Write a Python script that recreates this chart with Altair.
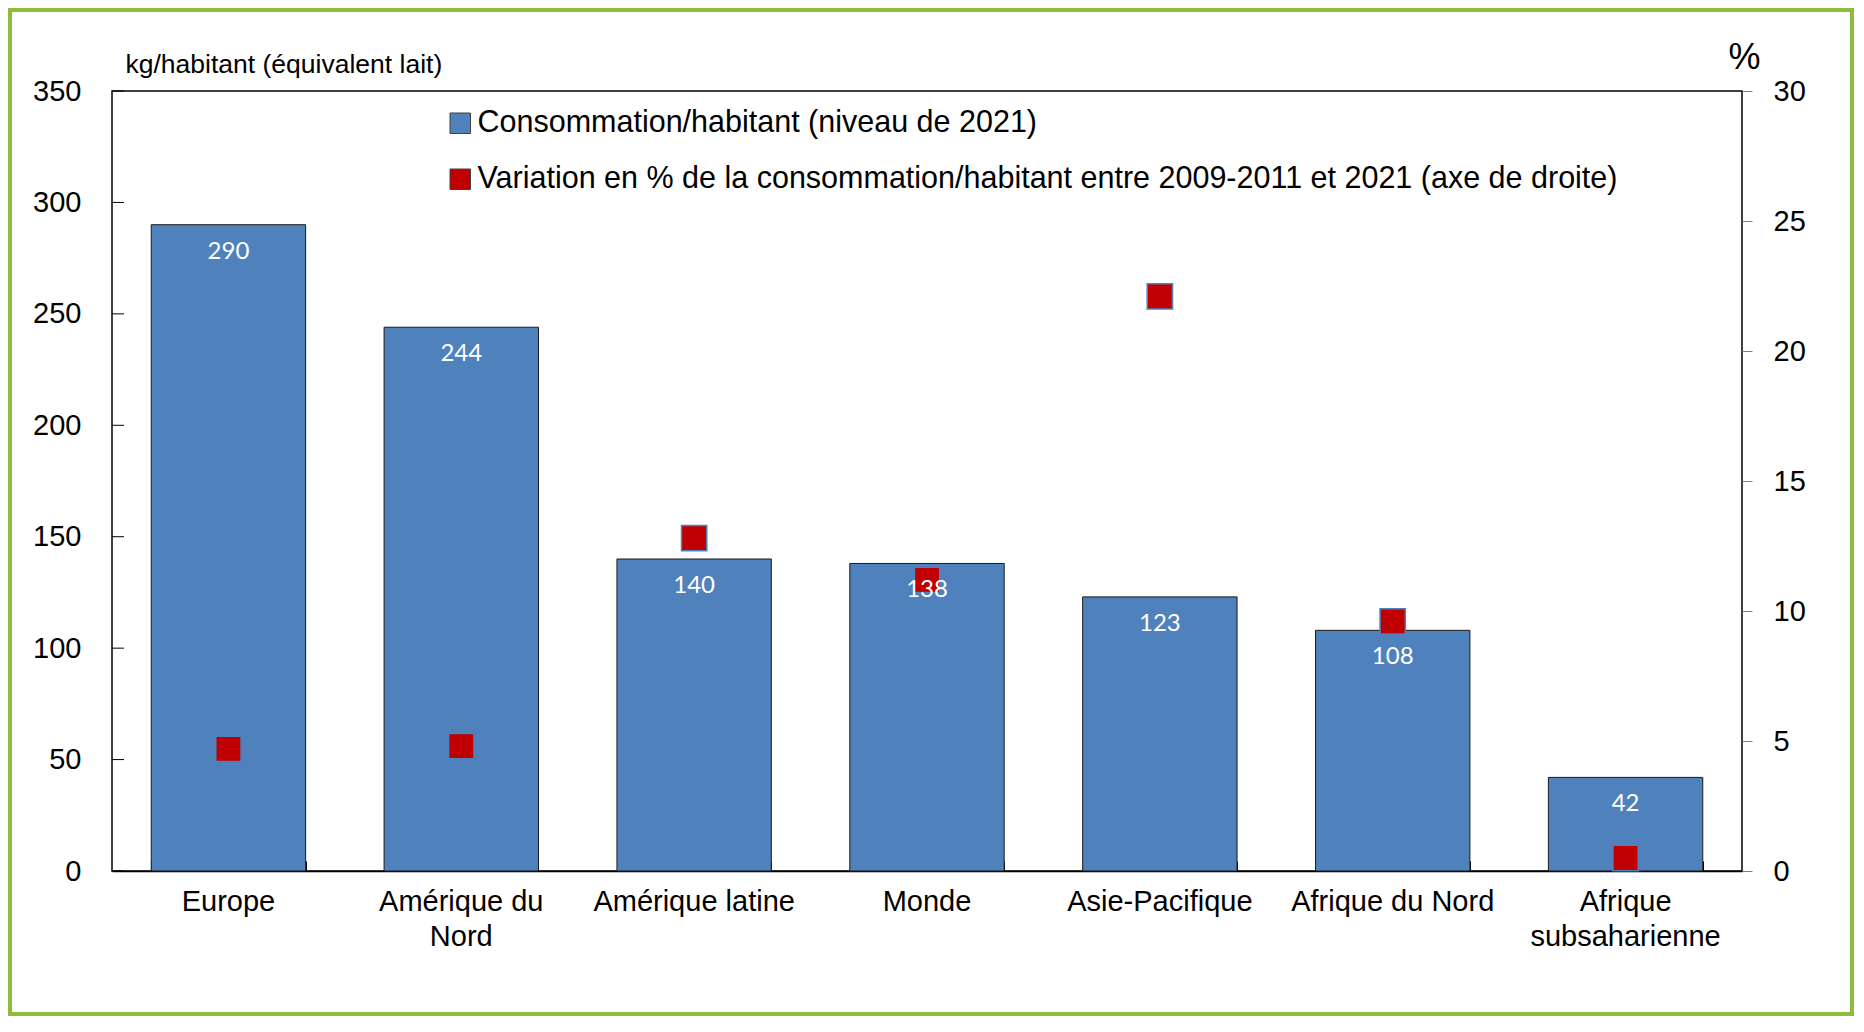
import json
import altair as alt
import pandas as pd

# ---- data ----
regions = ["Europe", "Amérique du Nord", "Amérique latine", "Monde",
           "Asie-Pacifique", "Afrique du Nord", "Afrique subsaharienne"]
consommation = [290, 244, 140, 138, 123, 108, 42]
variation = [4.7, 4.8, 12.8, 11.2, 22.1, 9.6, 0.5]
serie_labels = ["Consommation/habitant (niveau de 2021)",
                "Variation en % de la consommation/habitant entre 2009-2011 et 2021 (axe de droite)"]
left_ticks = [0, 50, 100, 150, 200, 250, 300, 350]
right_ticks = [0, 5, 10, 15, 20, 25, 30]
label_lines = {"Amérique du Nord": ["Amérique du", "Nord"],
               "Afrique subsaharienne": ["Afrique", "subsaharienne"]}

BLUE = "#4F81BD"
RED = "#C00000"
GREEN = "#8FBC3B"
FONT = "Liberation Sans"

W, H = 1630, 780
PAD = {"left": 104, "top": 83, "right": 112, "bottom": 145}

df = pd.DataFrame({
    "region": regions,
    "conso": consommation,
    "var": variation,
    "s_bar": [serie_labels[0]] * len(regions),
    "s_pt": [serie_labels[1]] * len(regions),
})
ticks_df = pd.DataFrame({"t": left_ticks})

label_expr = "datum.label"
for k, v in label_lines.items():
    label_expr = f"datum.label == '{k}' ? {json.dumps(v, ensure_ascii=False)} : ({label_expr})"

xscale = alt.Scale(domain=regions, paddingInner=0.337, paddingOuter=0.1685)
color_scale = alt.Scale(domain=serie_labels, range=[BLUE, RED])
legend = alt.Legend(
    title=None, orient="none", legendX=333, legendY=17, padding=0,
    symbolType="square", symbolSize=420, symbolStrokeColor="#404040",
    symbolStrokeWidth=1, labelFont=FONT, labelFontSize=30.5, labelColor="black",
    labelLimit=2000, labelOffset=2, rowPadding=25, direction="vertical",
)

bars = alt.Chart(df).mark_bar(stroke="#1a1a1a", strokeWidth=1).encode(
    x=alt.X("region:N", sort=regions, scale=xscale,
            axis=alt.Axis(orient="bottom", title=None, ticks=False, domain=True,
                          domainColor="black", domainWidth=1.5,
                          labelFont=FONT, labelFontSize=29, labelColor="black",
                          labelAngle=0, labelPadding=16, labelLineHeight=35,
                          labelBaseline="top", labelLimit=0, labelExpr=label_expr)),
    y=alt.Y("conso:Q", scale=alt.Scale(domain=[0, 350], nice=False),
            axis=alt.Axis(orient="left", values=left_ticks, ticks=False, domain=False,
                          grid=False, labelFont=FONT, labelFontSize=29,
                          labelColor="black", labelPadding=31,
                          title="kg/habitant (équivalent lait)", titleAngle=0,
                          titleX=13, titleY=-19, titleAlign="left",
                          titleBaseline="alphabetic", titleFont=FONT,
                          titleFontSize=26.5, titleFontWeight="normal",
                          titleColor="black")),
    color=alt.Color("s_bar:N", scale=color_scale, legend=legend),
)

points = alt.Chart(df).mark_square(size=640, filled=True, opacity=1,
                                   stroke=BLUE, strokeWidth=1.5).encode(
    x=alt.X("region:N", sort=regions, scale=xscale,
            axis=alt.Axis(orient="top", offset=-H, labels=False, domain=False,
                          ticks=True, tickBand="extent", tickSize=10,
                          tickColor="black", tickWidth=1, title=None, grid=False)),
    y=alt.Y("var:Q", scale=alt.Scale(domain=[0, 30], nice=False),
            axis=alt.Axis(orient="right", values=right_ticks, domain=False,
                          ticks=True, tickSize=10, tickColor="#808080",
                          tickWidth=1, grid=False, labelFont=FONT,
                          labelFontSize=29, labelColor="black", labelPadding=21,
                          title="%", titleAngle=0, titleX=2, titleY=-23,
                          titleAlign="center", titleBaseline="alphabetic",
                          titleFont=FONT, titleFontSize=36,
                          titleFontWeight="normal", titleColor="black")),
    color=alt.Color("s_pt:N", scale=color_scale, legend=legend),
)

labels = alt.Chart(df).mark_text(color="white", font="Lato", fontSize=24,
                                 baseline="alphabetic", dy=34).encode(
    x=alt.X("region:N", sort=regions, scale=xscale, axis=None),
    y=alt.Y("conso:Q", scale=alt.Scale(domain=[0, 350], nice=False), axis=None),
    text=alt.Text("conso:Q"),
)

left_tick_marks = alt.Chart(ticks_df).mark_rule(color="black", strokeWidth=1).encode(
    y=alt.Y("t:Q", scale=alt.Scale(domain=[0, 350], nice=False), axis=None),
    x=alt.value(0),
    x2=alt.value(12),
)

frame = alt.Chart(pd.DataFrame({"a": [0]})).mark_rect(
    filled=False, stroke=GREEN, strokeWidth=4).encode(
    x=alt.value(-102), x2=alt.value(1740),
    y=alt.value(-81), y2=alt.value(923),
)

chart = alt.layer(bars, points, labels, left_tick_marks, frame).resolve_scale(
    y="independent"
).resolve_axis(x="independent").properties(
    width=W, height=H, padding=PAD, autosize=alt.AutoSizeParams(type="none"),
    background="white",
).configure_view(stroke="black", strokeWidth=1.5)

chart.save("out.html", embed_options={"renderer": "svg", "actions": False})
